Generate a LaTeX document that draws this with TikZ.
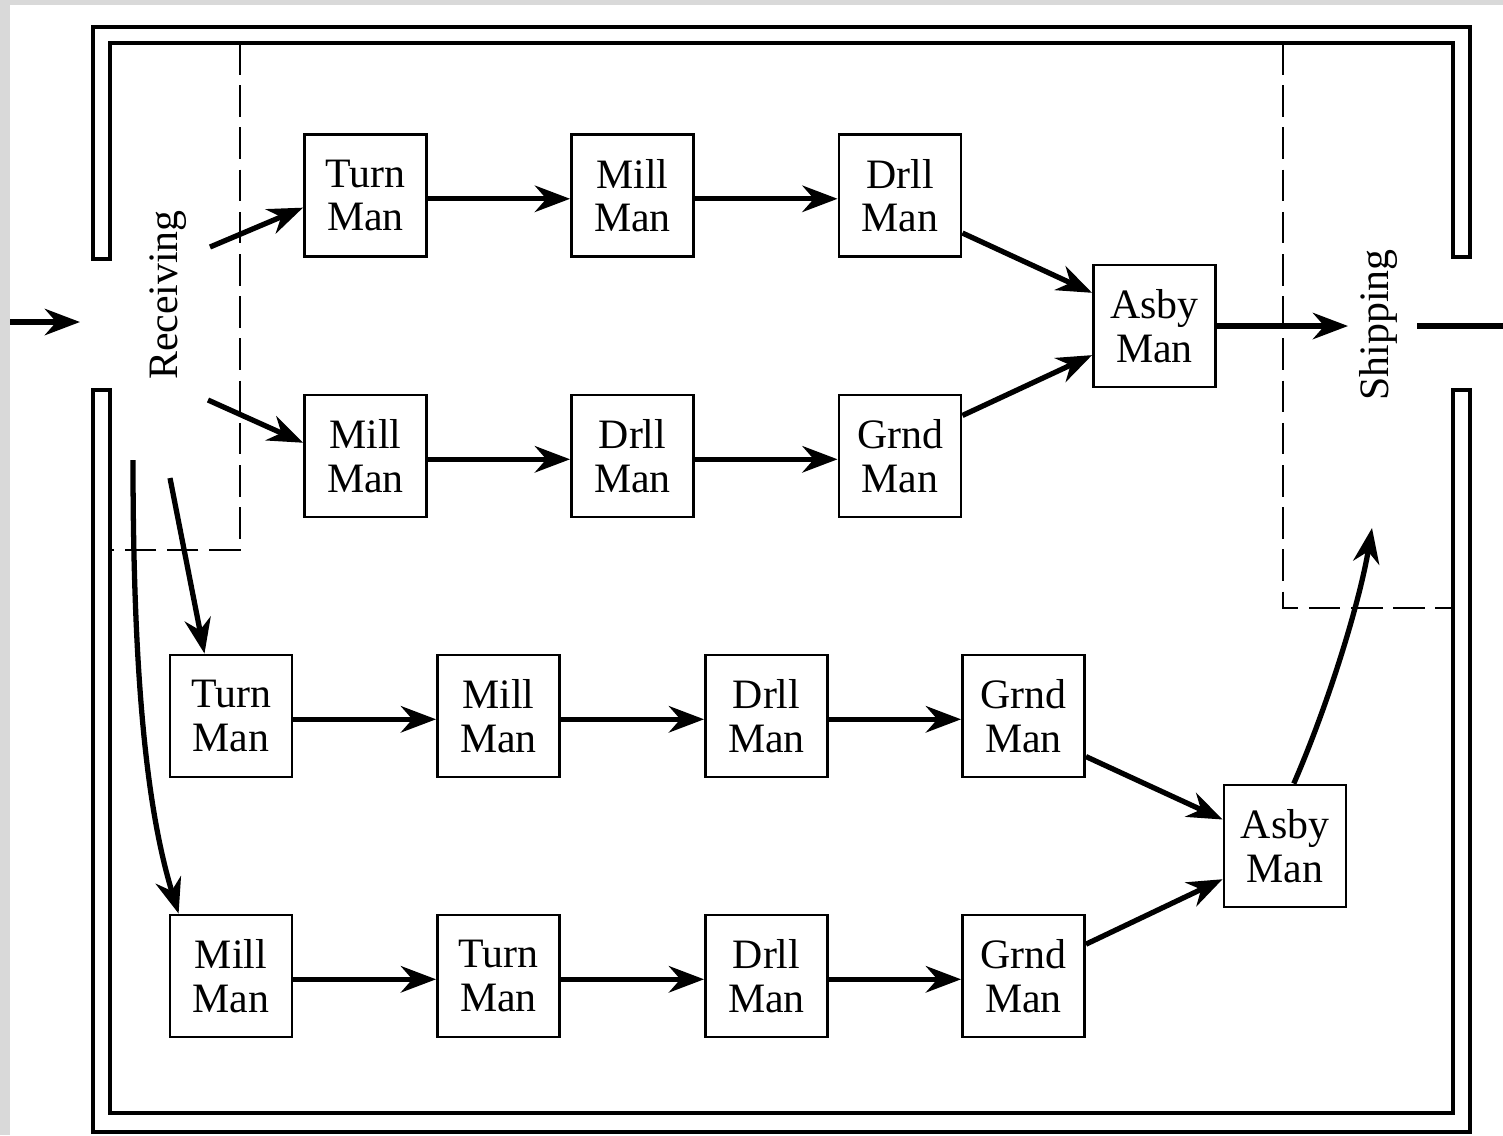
\documentclass[tikz,border=0pt]{standalone}
\usepackage{fontspec}
\setmainfont{Liberation Serif}
\usetikzlibrary{arrows.meta}
\begin{document}
\begin{tikzpicture}[x=0.01cm,y=-0.01cm,
  box/.style={draw, line width=0.8pt, minimum width=1.22cm, minimum height=1.22cm, inner sep=0pt, align=center, font=\fontsize{11.9}{12.4}\selectfont},
  flow/.style={line width=1.5pt, -{Stealth[length=10pt,width=7.5pt]}},
  wall/.style={line width=0.9pt},
  zone/.style={line width=0.75pt, dash pattern=on 9pt off 3pt},
  lbl/.style={font=\fontsize{11.9}{12.4}\selectfont, rotate=90}]
\useasboundingbox (0,0) rectangle (1503,1135);
\fill[gray!30] (0,0) rectangle (1503,1135);
\fill[white] (10,5) rectangle (1503,1135);
% walls
\draw[wall] (93,259) -- (93,27) -- (1470,27) -- (1470,257) -- (1453,257) -- (1453,43) -- (110,43) -- (110,259) -- cycle;
\draw[wall] (93,390) -- (93,1132) -- (1470,1132) -- (1470,390) -- (1453,390) -- (1453,1113) -- (110,1113) -- (110,390) -- cycle;
% zones
\draw[zone] (240,43) -- (240,550) -- (110,550);
\draw[zone] (1283,43) -- (1283,608) -- (1453,608);
\node[lbl] (recv) at (168,295) {Receiving};
\node[lbl] (ship) at (1378,325) {Shipping};
% boxes
\node[box] (a1) at (365.5,195.5) {Turn\\Man};
\node[box] (a2) at (632.5,195.5) {Mill\\Man};
\node[box] (a3) at (900,195.5) {Drll\\Man};
\node[box] (b1) at (365.5,456) {Mill\\Man};
\node[box] (b2) at (632.5,456) {Drll\\Man};
\node[box] (b3) at (900,456) {Grnd\\Man};
\node[box] (asT) at (1154.5,326) {Asby\\Man};
\node[box] (c1) at (231,716) {Turn\\Man};
\node[box] (c2) at (498.5,716) {Mill\\Man};
\node[box] (c3) at (766.5,716) {Drll\\Man};
\node[box] (c4) at (1023.5,716) {Grnd\\Man};
\node[box] (d1) at (231,976) {Mill\\Man};
\node[box] (d2) at (498.5,976) {Turn\\Man};
\node[box] (d3) at (766.5,976) {Drll\\Man};
\node[box] (d4) at (1023.5,976) {Grnd\\Man};
\node[box] (asB) at (1285,846) {Asby\\Man};
% free ends
\coordinate (in0) at (10,322);
\coordinate (in1) at (80,322);
\coordinate (out0) at (1417,326);
\coordinate (out1) at (1503,326);
\coordinate (shipin) at (1348,326);
\coordinate (shipup) at (1372,528);
\coordinate (r1) at (210,247);
\coordinate (r2) at (208,400);
\coordinate (r3) at (170,478);
\coordinate (r4) at (133,460);
% connectors
\draw[flow] (in0) -- (in1);
\draw[line width=1.5pt] (out0) -- (out1);
\draw[flow] (r1) -- (a1.-169);
\draw[flow] (r2) -- (b1.168);
\draw[flow] (r3) -- (c1.113.6);
\draw[flow] (r4) .. controls (133,700) and (150,820) .. (d1.130);
\draw[flow] (a1.-3) -- (a2.183);
\draw[flow] (a2.-3) -- (a3.183);
\draw[flow] (b1.-3) -- (b2.183);
\draw[flow] (b2.-3) -- (b3.183);
\draw[flow] (a3.-31) -- (asT.152.5);
\draw[flow] (b3.33) -- (asT.-155);
\draw[flow] (asT.east) -- (shipin);
\draw[flow] (c1.-3) -- (c2.183);
\draw[flow] (c2.-3) -- (c3.183);
\draw[flow] (c3.-3) -- (c4.183);
\draw[flow] (d1.-3) -- (d2.183);
\draw[flow] (d2.-3) -- (d3.183);
\draw[flow] (d3.-3) -- (d4.183);
\draw[flow] (c4.-33) -- (asB.157);
\draw[flow] (d4.27.5) -- (asB.-152.4);
\draw[flow] (asB.82.5) .. controls (1330,700) and (1360,600) .. (shipup);
\end{tikzpicture}
\end{document}
